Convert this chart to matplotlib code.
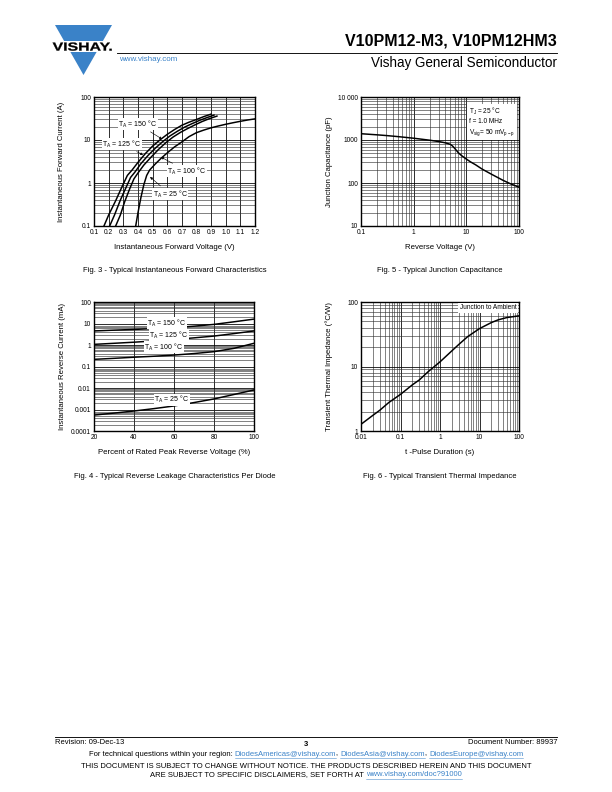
import numpy as np
import matplotlib
matplotlib.use("Agg")
import matplotlib.pyplot as plt
from matplotlib.patches import Polygon, Rectangle, PathPatch
from matplotlib.ticker import NullFormatter, LogLocator
from matplotlib.textpath import TextPath
from matplotlib.font_manager import FontProperties
from matplotlib.transforms import Affine2D

plt.rcParams['font.family'] = ['Liberation Sans', 'DejaVu Sans']
plt.rcParams['mathtext.fontset'] = 'custom'
plt.rcParams['mathtext.rm'] = 'Liberation Sans'
plt.rcParams['mathtext.it'] = 'Liberation Sans'

# ---------------- data ----------------
# Fig.3 forward characteristics (V, A)
vf_150 = [0.168, 0.20, 0.25, 0.29, 0.328, 0.36, 0.40, 0.45, 0.50, 0.55, 0.60, 0.65, 0.70, 0.75, 0.80, 0.85, 0.90]
if_150 = [0.1, 0.18, 0.40, 0.8, 1.5, 2.0, 3.0, 4.8, 7.2, 10.0, 13.5, 17.5, 22.0, 26.0, 30.0, 35.0, 40.0]
vf_125 = [0.207, 0.24, 0.28, 0.32, 0.35, 0.38, 0.42, 0.47, 0.52, 0.57, 0.62, 0.67, 0.72, 0.77, 0.82, 0.87, 0.92]
if_125 = [0.1, 0.18, 0.4, 0.8, 1.35, 1.8, 2.8, 4.4, 6.5, 9.2, 12.5, 16.0, 20.0, 24.0, 28.5, 33.0, 38.0]
vf_100 = [0.248, 0.28, 0.31, 0.345, 0.373, 0.40, 0.44, 0.49, 0.54, 0.59, 0.64, 0.69, 0.74, 0.79, 0.84, 0.89, 0.94]
if_100 = [0.1, 0.18, 0.37, 0.75, 1.25, 1.7, 2.6, 4.0, 6.0, 8.6, 11.7, 15.0, 18.5, 22.5, 27.0, 31.5, 36.0]
vf_25 = [0.385, 0.40, 0.42, 0.44, 0.46, 0.48, 0.52, 0.56, 0.60, 0.65, 0.70, 0.75, 0.80, 0.85, 0.90,
         0.95, 1.00, 1.05, 1.10, 1.15, 1.20]
if_25 = [0.1, 0.2, 0.45, 0.9, 1.5, 2.0, 2.8, 3.8, 5.0, 6.9, 9.0, 12.0, 14.8, 17.0, 19.2,
         21.2, 23.2, 25.2, 27.2, 29.2, 31.0]

# Fig.5 junction capacitance (V, pF)
vr_cap = [0.1, 0.2, 0.3, 0.5, 1, 2, 3, 4, 5, 5.5, 6, 6.5, 7, 8, 10, 12, 15, 20, 30, 50, 70, 100]
cj = [1400, 1320, 1270, 1200, 1100, 990, 920, 860, 790, 720, 640, 570, 510, 440, 360, 310,
      265, 210, 160, 115, 95, 80]

# Fig.4 reverse leakage (% of VRRM, mA)
pct = [20, 30, 40, 50, 60, 70, 80, 90, 100]
ir_150 = [4.5, 4.9, 5.3, 5.8, 6.4, 7.5, 9.1, 12.0, 16.0]
ir_125 = [1.07, 1.2, 1.35, 1.55, 1.8, 2.15, 2.6, 3.4, 4.5]
ir_100 = [0.215, 0.24, 0.27, 0.30, 0.34, 0.40, 0.49, 0.70, 1.2]
ir_25 = [0.00055, 0.00068, 0.00085, 0.0011, 0.00146, 0.0021, 0.0031, 0.005, 0.0081]

# Fig.6 transient thermal impedance (s, °C/W)
t_pulse = [0.01, 0.02, 0.03, 0.05, 0.1, 0.2, 0.3, 0.5, 1, 2, 3, 5, 10, 20, 30, 50, 100]
zth = [1.27, 1.75, 2.1, 2.75, 3.7, 5.2, 6.2, 8.3, 11.8, 17.5, 22.0, 29.0, 38.7, 48.0, 53.0, 57.5, 61.0]

W, H = 612, 792
fig = plt.figure(figsize=(W / 72, H / 72), dpi=72)

BLUE = '#3a82c8'
TICK_FS = 6.6
LAB_FS = 7.8
ANN_FS = 7.0


def ax_at(l, t, r, b):
    return fig.add_axes([l / W, 1 - b / H, (r - l) / W, (b - t) / H])


def style(ax):
    for s in ax.spines.values():
        s.set_linewidth(1.4)
    ax.tick_params(which='both', length=0, labelsize=TICK_FS)
    ax.tick_params(axis='x', pad=3)
    ax.tick_params(axis='y', pad=3)
    ax.set_axisbelow(True)


def labels(ax, xl, yl, xy_y, yl_x):
    ax.set_xlabel(xl, fontsize=LAB_FS)
    ax.set_ylabel(yl, fontsize=LAB_FS)
    ax.xaxis.set_label_coords(0.5, xy_y)
    ax.yaxis.set_label_coords(yl_x, 0.5)
    ax.xaxis.label.set_va('center')
    ax.yaxis.label.set_va('center')


def logy_grid(ax):
    ax.yaxis.set_minor_locator(LogLocator(base=10, subs=np.arange(2, 10)))
    ax.yaxis.set_minor_formatter(NullFormatter())
    ax.grid(True, which='major', axis='y', color='black', lw=0.8)
    ax.grid(True, which='minor', axis='y', color='#333333', lw=0.6)


def logx_grid(ax):
    ax.xaxis.set_minor_locator(LogLocator(base=10, subs=np.arange(2, 10)))
    ax.xaxis.set_minor_formatter(NullFormatter())
    ax.grid(True, which='major', axis='x', color='black', lw=0.8)
    ax.grid(True, which='minor', axis='x', color='#333333', lw=0.6)


box = dict(boxstyle='square,pad=0.1', fc='white', ec='none')

# ---------- Fig 3 ----------
ax1 = ax_at(94, 97, 255, 226)
ax1.set_yscale('log')
ax1.set_xlim(0.1, 1.2)
ax1.set_ylim(0.1, 100)
ax1.set_xticks([0.1, 0.2, 0.3, 0.4, 0.5, 0.6, 0.7, 0.8, 0.9, 1.0, 1.1, 1.2])
ax1.set_xticklabels(['0.1', '0.2', '0.3', '0.4', '0.5', '0.6', '0.7', '0.8', '0.9', '1.0', '1.1', '1.2'])
ax1.set_yticks([0.1, 1, 10, 100])
ax1.set_yticklabels(['0.1', '1', '10', '100'])
logy_grid(ax1)
ax1.grid(True, which='major', axis='x', color='black', lw=0.8)
style(ax1)
for v, i in [(vf_150, if_150), (vf_125, if_125), (vf_100, if_100), (vf_25, if_25)]:
    ax1.plot(v, i, color='black', lw=1.5, solid_joinstyle='round')
ann = [('T$_\\mathregular{A}$ = 150 °C', (0.40, 23.6), (0.565, 10.5)),
       ('T$_\\mathregular{A}$ = 125 °C', (0.29, 8.1), (0.435, 4.5)),
       ('T$_\\mathregular{A}$ = 100 °C', (0.735, 1.9), (0.558, 4.0)),
       ('T$_\\mathregular{A}$ = 25 °C', (0.62, 0.55), (0.483, 1.38))]
for txt, xy_t, xy_p in ann:
    ax1.annotate(txt, xy=xy_p, xytext=xy_t, fontsize=ANN_FS, ha='center', va='center',
                 bbox=box, arrowprops=dict(arrowstyle='-|>', color='black', lw=0.6,
                                           mutation_scale=5, shrinkA=3, shrinkB=0))
labels(ax1, 'Instantaneous Forward Voltage (V)', 'Instantaneous Forward Current (A)', -0.163, -0.2)

# ---------- Fig 5 ----------
ax2 = ax_at(361, 97, 519, 226)
ax2.set_xscale('log')
ax2.set_yscale('log')
ax2.set_xlim(0.1, 100)
ax2.set_ylim(10, 10000)
ax2.set_xticks([0.1, 1, 10, 100])
ax2.set_xticklabels(['0.1', '1', '10', '100'])
ax2.set_yticks([10, 100, 1000, 10000])
ax2.set_yticklabels(['10', '100', '1000', '10 000'])
logx_grid(ax2)
logy_grid(ax2)
style(ax2)
ax2.plot(vr_cap, cj, color='black', lw=1.5, solid_joinstyle='round')
ax2.text(0.685, 0.935, 'T$_\\mathregular{J}$ = 25 °C\nf = 1.0 MHz\nV$_\\mathregular{sig}$= 50 mV$_\\mathregular{p-p}$',
         transform=ax2.transAxes, fontsize=ANN_FS - 0.5, ha='left', va='top', linespacing=1.35,
         bbox=dict(boxstyle='square,pad=0.3', fc='white', ec='none'))
labels(ax2, 'Reverse Voltage (V)', 'Junction Capacitance (pF)', -0.17, -0.2)

# ---------- Fig 4 ----------
ax3 = ax_at(94, 302, 254, 431)
ax3.set_yscale('log')
ax3.set_xlim(20, 100)
ax3.set_ylim(0.0001, 100)
ax3.set_xticks([20, 40, 60, 80, 100])
ax3.set_xticklabels(['20', '40', '60', '80', '100'])
ax3.set_yticks([0.0001, 0.001, 0.01, 0.1, 1, 10, 100])
ax3.set_yticklabels(['0.0001', '0.001', '0.01', '0.1', '1', '10', '100'])
logy_grid(ax3)
ax3.grid(True, which='major', axis='x', color='black', lw=0.8)
style(ax3)
for i in [ir_150, ir_125, ir_100, ir_25]:
    ax3.plot(pct, i, color='black', lw=1.5, solid_joinstyle='round')
for txt, xy in [('T$_\\mathregular{A}$ = 150 °C', (56.5, 10.5)),
                ('T$_\\mathregular{A}$ = 125 °C', (57.5, 2.9)),
                ('T$_\\mathregular{A}$ = 100 °C', (55, 0.81)),
                ('T$_\\mathregular{A}$ = 25 °C', (59, 0.0028))]:
    ax3.text(xy[0], xy[1], txt, fontsize=ANN_FS, ha='center', va='center', bbox=box)
labels(ax3, 'Percent of Rated Peak Reverse Voltage (%)', 'Instantaneous Reverse Current (mA)', -0.17, -0.194)

# ---------- Fig 6 ----------
ax4 = ax_at(361, 302, 519, 431)
ax4.set_xscale('log')
ax4.set_yscale('log')
ax4.set_xlim(0.01, 100)
ax4.set_ylim(1, 100)
ax4.set_xticks([0.01, 0.1, 1, 10, 100])
ax4.set_xticklabels(['0.01', '0.1', '1', '10', '100'])
ax4.set_yticks([1, 10, 100])
ax4.set_yticklabels(['1', '10', '100'])
logx_grid(ax4)
logy_grid(ax4)
style(ax4)
ax4.plot(t_pulse, zth, color='black', lw=1.5, solid_joinstyle='round')
ax4.text(0.985, 0.955, 'Junction to Ambient', transform=ax4.transAxes, fontsize=ANN_FS - 0.5,
         ha='right', va='center', bbox=dict(boxstyle='square,pad=0.25', fc='white', ec='none'))
labels(ax4, 't -Pulse Duration (s)', 'Transient Thermal Impedance (°C/W)', -0.17, -0.2)

# ---------- page overlay ----------
ov = fig.add_axes([0, 0, 1, 1], zorder=-1)
ov.set_xlim(0, W)
ov.set_ylim(H, 0)
ov.axis('off')

# logo
ov.add_patch(Polygon([[55, 25], [112, 25], [83.5, 75]], closed=True, fc=BLUE, ec='none'))
ov.add_patch(Rectangle((50, 40.5), 66, 11.5, fc='white', ec='none'))
logo_path = TextPath((0, 0), 'VISHAY.', size=10,
                     prop=FontProperties(family='Liberation Sans', weight='bold'))
bb = logo_path.get_extents()
sx = 59.0 / bb.width
sy = 8.2 / bb.height
tr = Affine2D().translate(-bb.x0, -bb.y0).scale(sx, -sy).translate(52.7, 50.7) + ov.transData
ov.add_patch(PathPatch(logo_path, transform=tr, fc='black', ec='black', lw=0.3))

ov.text(557, 41, 'V10PM12-M3, V10PM12HM3', fontsize=16, fontweight='bold', ha='right', va='center')
ov.plot([117, 557], [53, 53], color='black', lw=0.9)
ov.text(119, 59.5, 'www.vishay.com', fontsize=8, color=BLUE, ha='left', va='center')
ov.text(557, 63, 'Vishay General Semiconductor', fontsize=13.5, ha='right', va='center')

# captions
capfs = 7.6
ov.text(175, 271, 'Fig. 3 - Typical Instantaneous Forward Characteristics', fontsize=capfs, ha='center', va='center')
ov.text(440, 271, 'Fig. 5 - Typical Junction Capacitance', fontsize=capfs, ha='center', va='center')
ov.text(175, 476, 'Fig. 4 - Typical Reverse Leakage Characteristics Per Diode', fontsize=capfs, ha='center', va='center')
ov.text(440, 476, 'Fig. 6 - Typical Transient Thermal Impedance', fontsize=capfs, ha='center', va='center')

# footer
ffs = 7.6
ov.plot([55, 557], [737, 737], color='black', lw=0.9)
ov.text(55, 743, 'Revision: 09-Dec-13', fontsize=ffs, ha='left', va='center')
ov.text(306, 744, '3', fontsize=ffs, fontweight='bold', ha='center', va='center')
ov.text(557, 743, 'Document Number: 89937', fontsize=ffs, ha='right', va='center')

renderer = fig.canvas.get_renderer()


def seg_line(y, parts, fs):
    arts = []
    x = 0
    for s, link in parts:
        t = ov.text(x, y, s, fontsize=fs, ha='left', va='center',
                    color=BLUE if link else 'black')
        w = t.get_window_extent(renderer).width
        arts.append((t, w, link))
        x += w
    x = W / 2 - x / 2
    for t, w, link in arts:
        t.set_x(x)
        if link:
            ov.plot([x, x + w], [y + 4.3, y + 4.3], color=BLUE, lw=0.5)
        x += w


seg_line(754, [('For technical questions within your region: ', False),
               ('DiodesAmericas@vishay.com', True), (', ', False),
               ('DiodesAsia@vishay.com', True), (', ', False),
               ('DiodesEurope@vishay.com', True)], ffs)
seg_line(766, [('THIS DOCUMENT IS SUBJECT TO CHANGE WITHOUT NOTICE. THE PRODUCTS DESCRIBED HEREIN AND THIS DOCUMENT', False)], ffs)
seg_line(775, [('ARE SUBJECT TO SPECIFIC DISCLAIMERS, SET FORTH AT ', False),
               ('www.vishay.com/doc?91000', True)], ffs)

fig.savefig('out.png', dpi=72)
